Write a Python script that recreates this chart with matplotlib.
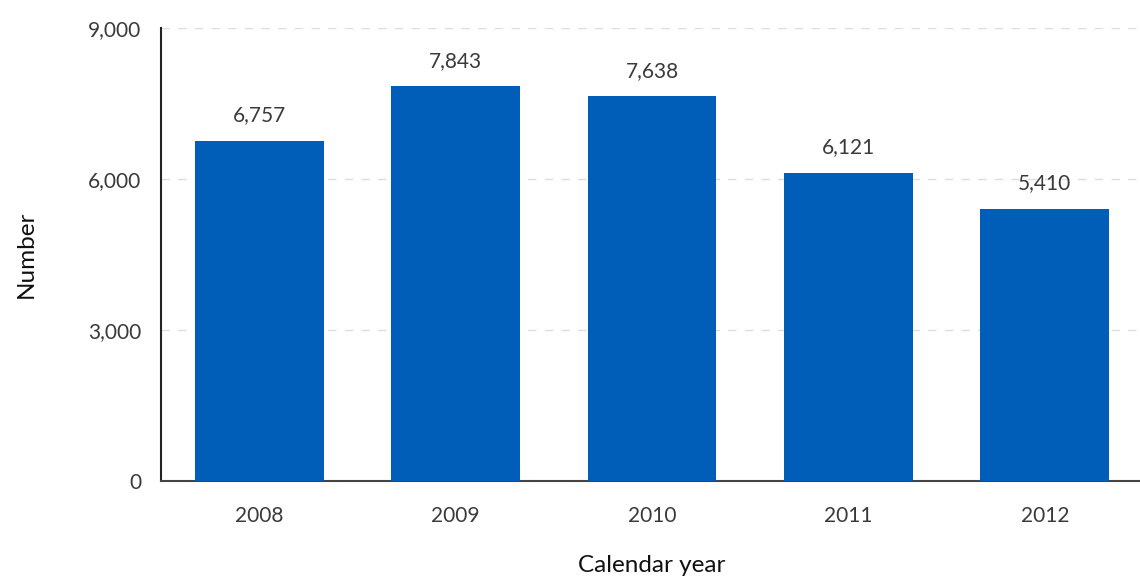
import matplotlib.pyplot as plt
import numpy as np
from matplotlib import font_manager

years = ["2008", "2009", "2010", "2011", "2012"]
counts = [6757, 7843, 7638, 6121, 5410]
y_ticks = [0, 3000, 6000, 9000]

names = {f.name for f in font_manager.fontManager.ttflist}
family = "Lato" if "Lato" in names else "DejaVu Sans"
plt.rcParams["font.family"] = [family, "DejaVu Sans"]

text_color = "#3a3a3a"
bar_color = "#005EB8"

fig = plt.figure(figsize=(11.4, 5.76), dpi=100)
ax = fig.add_axes([0.1412, 0.165, 0.8614, 0.7865])

x = np.arange(len(years))
bars = ax.bar(x, counts, width=0.656, color=bar_color, zorder=3)

for xi, v in zip(x, counts):
    ax.annotate(
        f"{v:,}",
        (xi, v),
        xytext=(0, 11),
        textcoords="offset points",
        ha="center",
        va="bottom",
        fontsize=15,
        color=text_color,
    )

ax.set_xlim(-0.5, 4.5)
ax.set_ylim(0, 9000)
ax.set_xticks(x)
ax.set_xticklabels(years)
ax.set_yticks(y_ticks)
ax.set_yticklabels([f"{t:,}" for t in y_ticks])
ax.tick_params(axis="both", length=0, labelsize=15, labelcolor=text_color)
ax.tick_params(axis="x", pad=18)
ax.tick_params(axis="y", pad=14)

ax.yaxis.grid(True, linestyle=(0, (6, 6)), color="#dddddd", linewidth=1, zorder=0)

for side in ("top", "right"):
    ax.spines[side].set_visible(False)
ax.spines["left"].set_color("#222222")
ax.spines["left"].set_linewidth(1.5)
ax.spines["bottom"].set_color("#444444")
ax.spines["bottom"].set_linewidth(1.5)

ax.set_xlabel("Calendar year", fontsize=17.5, color="#111111", labelpad=21)
ax.set_ylabel("Number", fontsize=17.5, color="#111111", labelpad=37)

fig.savefig("out.png", dpi=100)
